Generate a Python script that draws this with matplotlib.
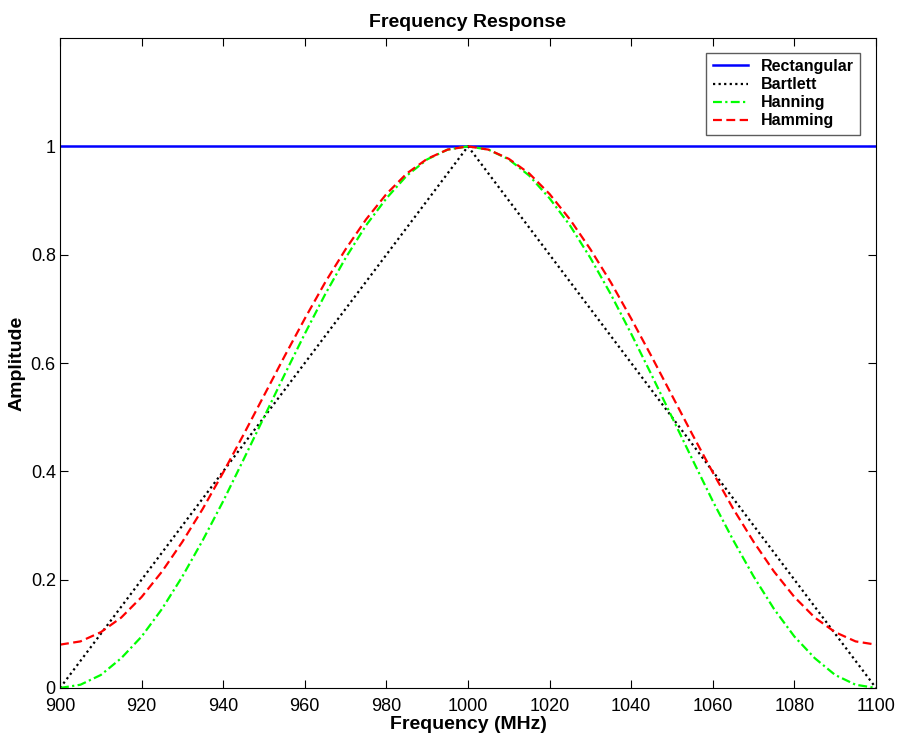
import matplotlib
matplotlib.use("Agg")
import matplotlib.pyplot as plt

plt.rcParams['font.family'] = ['Liberation Sans', 'DejaVu Sans']

# frequency grid, 5 MHz steps
freq = list(range(900, 1105, 5))

rect = [1.0] * 41

bart_half = [0.0, 0.05, 0.10, 0.15, 0.20, 0.25, 0.30, 0.35, 0.40, 0.45,
             0.50, 0.55, 0.60, 0.65, 0.70, 0.75, 0.80, 0.85, 0.90, 0.95, 1.0]
hann_half = [0.0, 0.006, 0.024, 0.055, 0.095, 0.146, 0.206, 0.273, 0.345, 0.422,
             0.500, 0.578, 0.654, 0.727, 0.794, 0.854, 0.904, 0.946, 0.976, 0.994, 1.0]
hamm_half = [0.080, 0.086, 0.103, 0.130, 0.168, 0.215, 0.270, 0.331, 0.398, 0.468,
             0.540, 0.612, 0.682, 0.749, 0.810, 0.865, 0.912, 0.950, 0.977, 0.994, 1.0]

# curves are symmetric about 1000 MHz
bartlett = bart_half + bart_half[-2::-1]
hanning = hann_half + hann_half[-2::-1]
hamming = hamm_half + hamm_half[-2::-1]

xticks = list(range(900, 1120, 20))
yticks = [0, 0.2, 0.4, 0.6, 0.8, 1]

fig = plt.figure(figsize=(9, 7.4), dpi=100)
ax = fig.add_axes([0.0667, 0.0703, 0.9066, 0.8783])

ax.plot(freq, rect, color='#0000ff', lw=1.8, label='Rectangular')
ax.plot(freq, bartlett, color='black', lw=1.6, ls=(0, (1, 1.5)), label='Bartlett')
ax.plot(freq, hanning, color='#00ff00', lw=1.6, ls=(0, (4, 1.5, 1, 1.5)), label='Hanning')
ax.plot(freq, hamming, color='#ff0000', lw=1.6, ls=(0, (4, 2)), label='Hamming')

ax.set_xlim(900, 1100)
ax.set_ylim(0, 1.2)
ax.set_xticks(xticks)
ax.set_yticks(yticks)
ax.set_yticklabels(['0', '0.2', '0.4', '0.6', '0.8', '1'])
ax.tick_params(direction='in', top=True, right=True, labelsize=13, length=6)
ax.tick_params(axis='x', pad=7)
ax.tick_params(axis='y', pad=3)

ax.set_title('Frequency Response', fontsize=14, fontweight='bold', pad=8)
ax.set_xlabel('Frequency (MHz)', fontsize=14, fontweight='bold', labelpad=1)
ax.set_ylabel('Amplitude', fontsize=14, fontweight='bold', labelpad=4)

leg = ax.legend(loc='upper right', fancybox=False, edgecolor='#333333',
                prop={'weight': 'bold', 'size': 11.5}, handlelength=2.2,
                borderpad=0.4, labelspacing=0.2, bbox_to_anchor=(0.99, 0.99))
leg.get_frame().set_linewidth(1.0)

plt.savefig('out.png', dpi=100, facecolor='white')
